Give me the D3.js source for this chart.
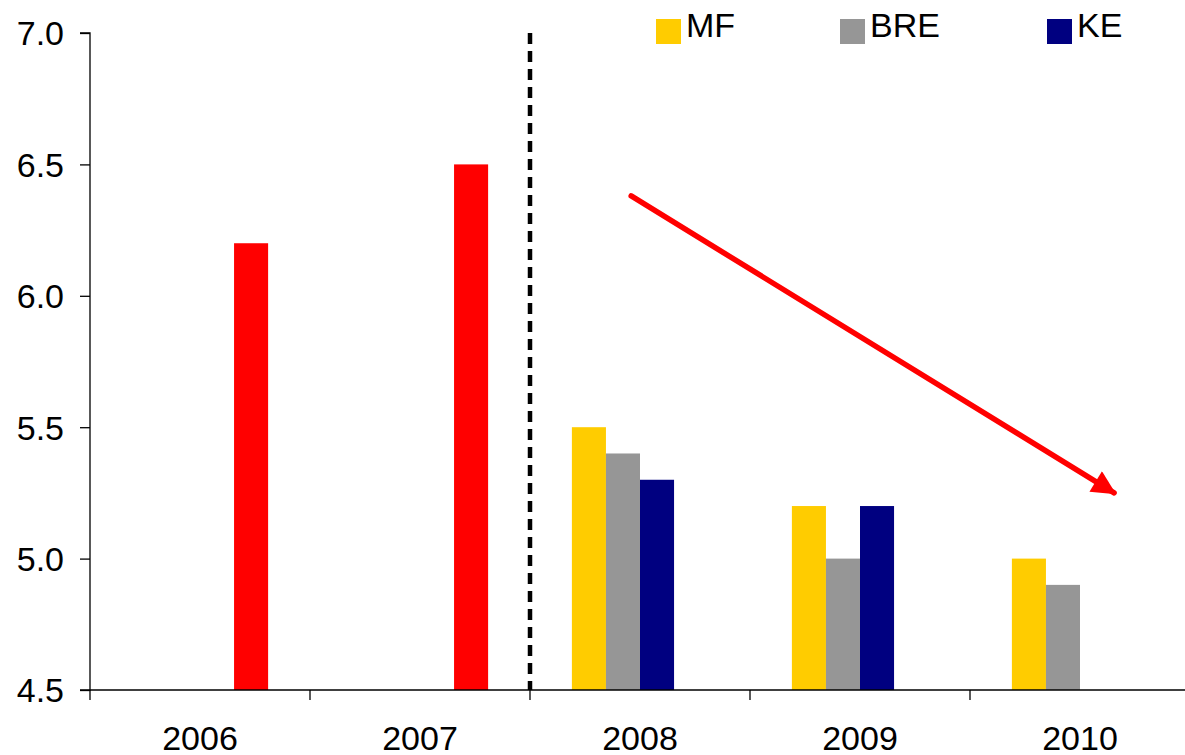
<!DOCTYPE html>
<html>
<head>
<meta charset="utf-8">
<script src="https://cdn.jsdelivr.net/npm/d3@7"></script>
<style>
  html, body { margin: 0; padding: 0; background: #fff; }
  svg { display: block; font-family: "Liberation Sans", Arial, sans-serif; }
</style>
</head>
<body>
<svg id="chart" width="1185" height="755"></svg>
<script>
// Years on the category axis
const years = ["2006", "2007", "2008", "2009", "2010"];
// Series names, in cluster order
const seriesNames = ["MF", "BRE", "KE", "Actual"];
const seriesColors = ["#FFCC00", "#969696", "#000080", "#FF0000"];
// Values per series (null = no bar)
const mfValues     = [null, null, 5.5, 5.2, 5.0];
const breValues    = [null, null, 5.4, 5.0, 4.9];
const keValues     = [null, null, 5.3, 5.2, null];
const actualValues = [6.2, 6.5, null, null, null];
// Y axis ticks
const yTicks = [4.5, 5.0, 5.5, 6.0, 6.5, 7.0];
// Legend entries (actual series not shown)
const legendNames = ["MF", "BRE", "KE"];
// Trend arrow: [year, position inside band, value]
const arrowFrom = ["2008", 0.46, 6.38];
const arrowTo   = ["2010", 0.655, 5.25];

const allSeries = [mfValues, breValues, keValues, actualValues];

const svg = d3.select("#chart");
const plotLeft = 90, plotRight = 1190, plotTop = 33, plotBottom = 690;

const x = d3.scaleBand().domain(years).range([plotLeft, plotRight]);
const inner = d3.scaleBand().domain(seriesNames)
  .range([0, x.bandwidth()]).paddingInner(0).paddingOuter(1.23);
const y = d3.scaleLinear().domain([4.5, 7.0]).range([plotBottom, plotTop]);

// Bars
const barData = [];
allSeries.forEach((vals, si) => {
  vals.forEach((v, i) => {
    if (v != null) barData.push({ year: years[i], series: seriesNames[si], value: v, color: seriesColors[si] });
  });
});
svg.append("g").selectAll("rect").data(barData).join("rect")
  .attr("x", d => x(d.year) + inner(d.series))
  .attr("width", inner.bandwidth())
  .attr("y", d => y(d.value))
  .attr("height", d => y(4.5) - y(d.value))
  .attr("fill", d => d.color);

// Y axis
const yAxis = d3.axisLeft(y).tickValues(yTicks).tickFormat(d3.format(".1f"))
  .tickSize(10).tickPadding(16);
const gy = svg.append("g").attr("transform", `translate(${plotLeft},0)`).call(yAxis);
gy.select(".domain").attr("stroke", "#000").attr("stroke-width", 1.3)
  .attr("d", `M-10,${plotTop}H0V${plotBottom}H-10`);
gy.selectAll(".tick line").attr("stroke", "#000").attr("stroke-width", 1.3);
gy.selectAll(".tick text").attr("fill", "#000").style("font-size", "34px")
  .style("font-family", "'Liberation Sans', Arial, sans-serif")
  .attr("dy", "0.35em");

// X axis with ticks at category boundaries
const gx = svg.append("g").attr("transform", `translate(0,${plotBottom})`);
gx.append("line").attr("x1", plotLeft).attr("x2", plotRight).attr("y1", 0).attr("y2", 0)
  .attr("stroke", "#000").attr("stroke-width", 1.3);
const boundaries = years.map(d => x(d)).concat([x(years[years.length - 1]) + x.bandwidth()]);
gx.selectAll("line.tk").data(boundaries).join("line").attr("class", "tk")
  .attr("x1", d => d).attr("x2", d => d).attr("y1", 0).attr("y2", 10)
  .attr("stroke", "#000").attr("stroke-width", 1.3);
gx.selectAll("text").data(years).join("text")
  .attr("x", d => x(d) + x.bandwidth() / 2)
  .attr("y", 60)
  .attr("text-anchor", "middle")
  .style("font-size", "34px")
  .text(d => d);

// Dashed divider between actual and forecast years
svg.append("line")
  .attr("x1", x("2008")).attr("x2", x("2008"))
  .attr("y1", y(7.0)).attr("y2", y(4.5))
  .attr("stroke", "#000").attr("stroke-width", 4.5)
  .attr("stroke-dasharray", "11 7");

// Trend arrow
const defs = svg.append("defs");
defs.append("marker").attr("id", "arrowhead")
  .attr("viewBox", "0 0 10 10").attr("refX", 9).attr("refY", 5)
  .attr("markerUnits", "userSpaceOnUse")
  .attr("markerWidth", 28).attr("markerHeight", 24)
  .attr("orient", "auto")
  .append("path").attr("d", "M0,0L10,5L0,10Z").attr("fill", "#FF0000");
const ax = a => x(a[0]) + a[1] * x.bandwidth();
svg.append("line")
  .attr("x1", ax(arrowFrom)).attr("y1", y(arrowFrom[2]))
  .attr("x2", ax(arrowTo)).attr("y2", y(arrowTo[2]))
  .attr("stroke", "#FF0000").attr("stroke-width", 5.5)
  .attr("stroke-linecap", "round")
  .attr("marker-end", "url(#arrowhead)");

// Legend
const legendX = [656, 840, 1047];
const lg = svg.append("g").selectAll("g").data(legendNames).join("g")
  .attr("transform", (d, i) => `translate(${legendX[i]},19)`);
lg.append("rect").attr("width", 25).attr("height", 25)
  .attr("fill", d => seriesColors[seriesNames.indexOf(d)]);
lg.append("text")
  .attr("x", 30).attr("y", 18)
  .style("font-size", "34px")
  .text(d => d);
</script>
</body>
</html>
